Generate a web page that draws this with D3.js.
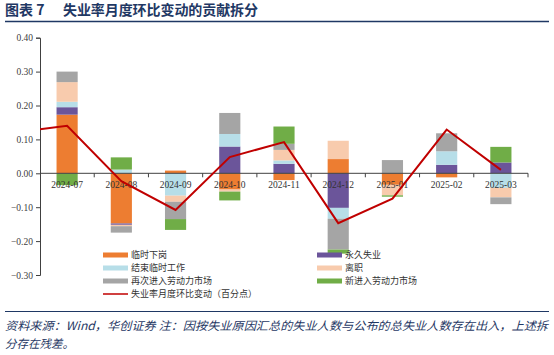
<!DOCTYPE html>
<html><head><meta charset="utf-8">
<script src="https://cdn.jsdelivr.net/npm/d3@7"></script>
<style>
body{margin:0;background:#fff;}
svg{display:block;}
</style></head>
<body>
<svg id="c" width="554" height="355"></svg>
<script>
const categories = ["2024-07","2024-08","2024-09","2024-10","2024-11","2024-12","2025-01","2025-02","2025-03"];
const seriesNames = ["临时下岗","永久失业","结束临时工作","离职","再次进入劳动力市场","新进入劳动力市场"];
const tempLayoff   = [0.173,-0.148, 0.008,-0.048,-0.020, 0.042,-0.034,-0.012, 0.000];
const permLoss     = [0.022,-0.004, 0.000, 0.079, 0.028,-0.102, 0.000, 0.025, 0.032];
const tempJobEnd   = [0.016, 0.011,-0.066, 0.037, 0.010,-0.032, 0.000, 0.040,-0.043];
const quitJob      = [0.058,-0.004,-0.018,-0.006, 0.031, 0.054,-0.031, 0.000,-0.028];
const reentrants   = [0.031,-0.019,-0.051, 0.062, 0.018,-0.091, 0.039, 0.053,-0.020];
const newEntrants  = [-0.035,0.036,-0.032,-0.026, 0.051,-0.012,-0.004, 0.000, 0.046];
const lineName = "失业率月度环比变动（百分点）";
const rateChange   = [0.140,-0.023,-0.108, 0.048, 0.092,-0.147,-0.075, 0.129, 0.010];
const prevRateChange = 0.12; // 2024-06, outside the visible range
const yTicks = [0.40,0.30,0.20,0.10,0.00,-0.10,-0.20,-0.30];
const colors = ["#ED7D31","#6B559A","#B7DEE8","#F8CBAD","#A5A5A5","#70AD47"];
const lineColor = "#C00000";

const seriesVals = [tempLayoff,permLoss,tempJobEnd,quitJob,reentrants,newEntrants];
const rows = categories.map((c,i)=>{const o={cat:c}; seriesNames.forEach((s,k)=>o[s]=seriesVals[k][i]); return o;});

const svg = d3.select("#c");
const navy = "#1F3864";

// Title
svg.append("text").attr("x",5).attr("y",15).attr("font-family","Noto Sans CJK SC").attr("font-size",14)
  .attr("font-weight","bold").attr("fill",navy).attr("xml:space","preserve").text("图表 7");
svg.append("text").attr("x",63).attr("y",15).attr("font-family","Noto Sans CJK SC").attr("font-size",14)
  .attr("font-weight","bold").attr("fill",navy).attr("textLength",195).attr("lengthAdjust","spacing").text("失业率月度环比变动的贡献拆分");
svg.append("line").attr("x1",5).attr("x2",549).attr("y1",21.5).attr("y2",21.5).attr("stroke",navy).attr("stroke-width",1.5);

const left=40, right=528;
const x = d3.scaleBand().domain(categories).range([left,right]).padding(0);
const y = d3.scaleLinear().domain([-0.3,0.4]).range([275,37.7]);
const barW = x.bandwidth()*0.39;

// bars
const stack = d3.stack().keys(seriesNames).offset(d3.stackOffsetDiverging).order(d3.stackOrderNone);
const stacked = stack(rows);
const g = svg.append("g");
stacked.forEach((layer,k)=>{
  g.selectAll(null).data(layer).join("rect")
    .attr("x",d=>x(d.data.cat)+x.bandwidth()/2-barW/2)
    .attr("width",barW)
    .attr("y",d=>y(Math.max(d[0],d[1])))
    .attr("height",d=>Math.abs(y(d[0])-y(d[1])))
    .attr("fill",colors[k]);
});

// y axis
const yAxis = d3.axisLeft(y).tickValues(yTicks).tickFormat(d3.format(".2f")).tickSizeOuter(0).tickSize(4);
const ya = svg.append("g").attr("transform",`translate(${left},0)`).call(yAxis);
ya.select(".domain").attr("stroke","#404040");
ya.selectAll(".tick line").attr("stroke","#404040");
ya.selectAll(".tick text").attr("font-family","Liberation Serif").attr("font-size",9.5).attr("fill","#404040").attr("x",-7);

// x axis at zero
const xa = svg.append("g").attr("transform",`translate(0,${y(0)})`);
xa.append("line").attr("x1",left).attr("x2",right).attr("stroke","#404040");
const bounds = categories.map(c=>x(c)).concat([right]);
xa.selectAll(null).data(bounds.slice(1)).join("line")
  .attr("x1",d=>d).attr("x2",d=>d).attr("y1",0).attr("y2",4).attr("stroke","#404040");
xa.selectAll(null).data(categories).join("text")
  .attr("x",d=>x(d)+x.bandwidth()/2).attr("y",14.5).attr("text-anchor","middle")
  .attr("font-family","Liberation Serif").attr("font-size",9.5).attr("fill","#333").text(d=>d);

// line
svg.append("clipPath").attr("id","clp").append("rect").attr("x",left).attr("y",0).attr("width",right-left).attr("height",355);
const linePts = [{xv:x(categories[0])-x.bandwidth()/2, v:prevRateChange}]
  .concat(categories.map((c,i)=>({xv:x(c)+x.bandwidth()/2, v:rateChange[i]})));
svg.append("path").attr("clip-path","url(#clp)")
  .attr("d",d3.line().x(d=>d.xv).y(d=>y(d.v))(linePts))
  .attr("fill","none").attr("stroke",lineColor).attr("stroke-width",2);

// legend
const legItems = [
  {n:seriesNames[0],c:colors[0],col:0,row:0},
  {n:seriesNames[1],c:colors[1],col:1,row:0},
  {n:seriesNames[2],c:colors[2],col:0,row:1},
  {n:seriesNames[3],c:colors[3],col:1,row:1},
  {n:seriesNames[4],c:colors[4],col:0,row:2},
  {n:seriesNames[5],c:colors[5],col:1,row:2}
];
const colX=[103,317], rowY=[255,268,281,294];
const lg = svg.append("g");
legItems.forEach(it=>{
  lg.append("rect").attr("x",colX[it.col]).attr("y",rowY[it.row]-2.5).attr("width",25).attr("height",5).attr("fill",it.c);
  lg.append("text").attr("x",colX[it.col]+28).attr("y",rowY[it.row]+3.2).attr("font-family","Noto Sans CJK SC")
    .attr("font-size",9).attr("fill","#333").text(it.n);
});
lg.append("line").attr("x1",colX[0]).attr("x2",colX[0]+25).attr("y1",rowY[3]).attr("y2",rowY[3]).attr("stroke",lineColor).attr("stroke-width",1.5);
lg.append("text").attr("x",colX[0]+28).attr("y",rowY[3]+3.2).attr("font-family","Noto Sans CJK SC")
  .attr("font-size",9).attr("fill","#333").text(lineName);

// footer
svg.append("line").attr("x1",5).attr("x2",549).attr("y1",311.5).attr("y2",311.5).attr("stroke",navy).attr("stroke-width",1);
const ft = svg.append("g").attr("font-family","Noto Sans CJK SC").attr("font-size",11.5).attr("font-style","italic").attr("fill",navy);
ft.append("text").attr("x",5).attr("y",330).attr("textLength",543).attr("lengthAdjust","spacingAndGlyphs")
  .text("资料来源：Wind，华创证券  注：因按失业原因汇总的失业人数与公布的总失业人数存在出入，上述拆");
ft.append("text").attr("x",5).attr("y",348).text("分存在残差。");
</script>
</body></html>
